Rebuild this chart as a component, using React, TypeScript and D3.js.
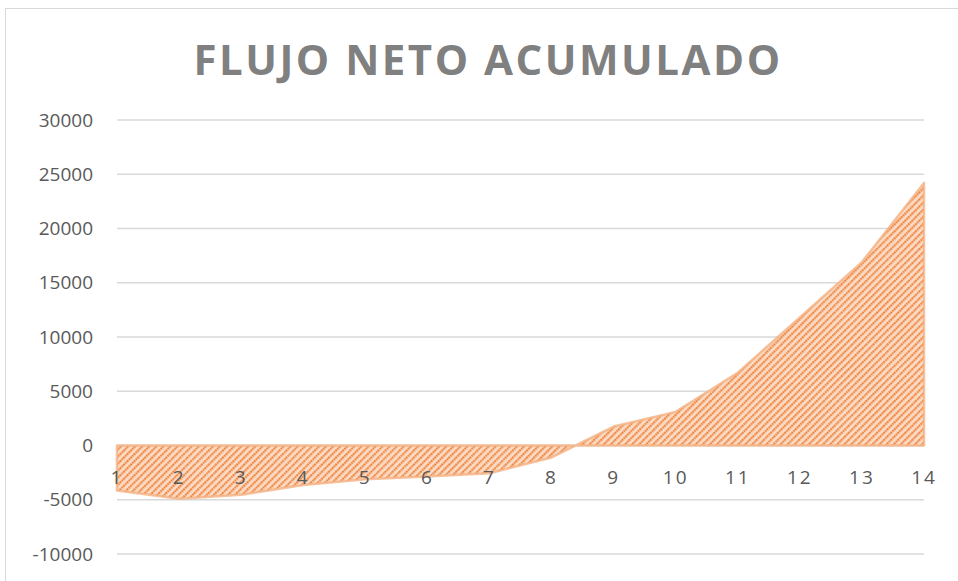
import React, { useRef, useEffect } from 'react';
import * as d3 from 'd3';

const periods = [1, 2, 3, 4, 5, 6, 7, 8, 9, 10, 11, 12, 13, 14];
const flujo = [-4150, -4900, -4550, -3650, -3100, -2850, -2550, -1100, 1750, 3100, 6700, 11800, 16900, 24200];
const yTicks = [-10000, -5000, 0, 5000, 10000, 15000, 20000, 25000, 30000];
const title = 'FLUJO NETO ACUMULADO';

const App = () => {
  const ref = useRef<SVGSVGElement>(null);

  useEffect(() => {
    const svg = d3.select(ref.current);
    svg.selectAll('*').remove();

    const width = 958;
    const height = 581;
    const left = 117, right = 924, top = 120, bottom = 554;

    // outer chart border
    svg.append('rect')
      .attr('x', 5.5).attr('y', 8.5)
      .attr('width', 1000).attr('height', 1000)
      .attr('fill', '#fff').attr('stroke', '#d9d9d9');

    const defs = svg.append('defs');
    const pat = defs.append('pattern')
      .attr('id', 'hatch')
      .attr('patternUnits', 'userSpaceOnUse')
      .attr('width', 5).attr('height', 5)
      .attr('patternTransform', 'rotate(45)');
    pat.append('rect').attr('width', 5).attr('height', 5).attr('fill', '#fbdcc6');
    pat.append('line')
      .attr('x1', 1.2).attr('y1', 0).attr('x2', 1.2).attr('y2', 5)
      .attr('stroke', '#ed7a2e').attr('stroke-width', 2.1)
      .attr('stroke-dasharray', '1.8 0.7');

    const x = d3.scaleLinear().domain([1, 14]).range([left, right]);
    const y = d3.scaleLinear().domain([-10000, 30000]).range([bottom, top]);

    // gridlines
    svg.append('g').selectAll('line').data(yTicks).join('line')
      .attr('x1', left).attr('x2', right)
      .attr('y1', d => y(d)).attr('y2', d => y(d))
      .attr('stroke', '#d9d9d9').attr('stroke-width', 1.3);

    // y labels
    svg.append('g').selectAll('text').data(yTicks).join('text')
      .attr('x', 93).attr('y', d => y(d))
      .attr('dy', '0.35em')
      .attr('text-anchor', 'end')
      .attr('font-family', 'Open Sans, sans-serif')
      .attr('font-size', 19)
      .attr('fill', '#595959')
      .text(d => d);

    // area
    const area = d3.area<number>()
      .x((d, i) => x(periods[i]))
      .y0(y(0))
      .y1(d => y(d));

    svg.append('path')
      .datum(flujo)
      .attr('d', area)
      .attr('fill', 'url(#hatch)')
      .attr('stroke', '#f4b183')
      .attr('stroke-width', 2.5)
      .attr('stroke-opacity', 0.8)
      .attr('stroke-linejoin', 'round');

    // x labels
    svg.append('g').selectAll('text').data(periods).join('text')
      .attr('x', d => x(d)).attr('y', y(0) + 38)
      .attr('text-anchor', 'middle')
      .attr('font-family', 'Open Sans, sans-serif')
      .attr('font-size', 19)
      .attr('letter-spacing', 2)
      .attr('fill', '#595959')
      .text(d => d);

    svg.append('text')
      .attr('x', 488).attr('y', 75)
      .attr('text-anchor', 'middle')
      .attr('font-family', 'Open Sans, sans-serif')
      .attr('font-weight', 'bold')
      .attr('font-size', 42)
      .attr('letter-spacing', 2.5)
      .attr('fill', '#808080')
      .text(title);

    svg.attr('width', width).attr('height', height);
  }, []);

  return (
    <svg ref={ref} width={958} height={581} style={{ position: 'absolute', left: 0, top: 0 }}></svg>
  );
};

export default App;
